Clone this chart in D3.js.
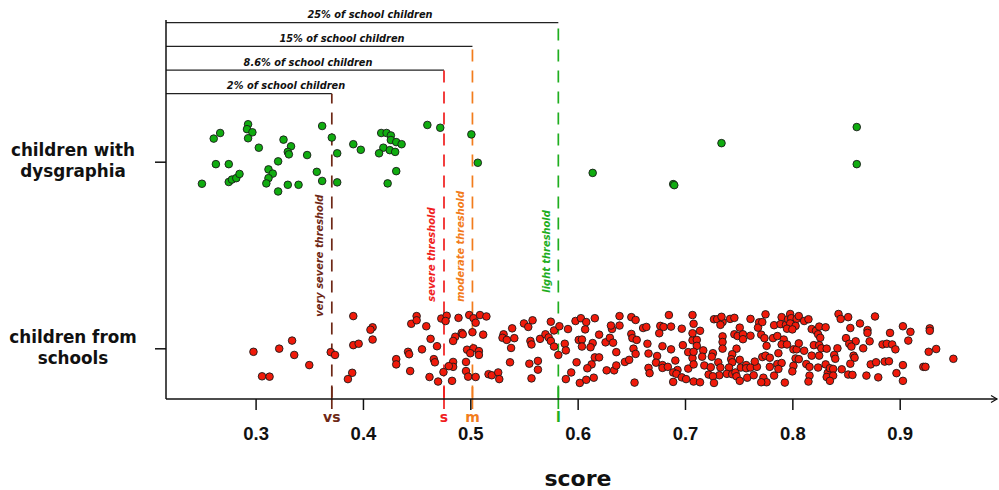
<!DOCTYPE html>
<html>
<head>
<meta charset="utf-8">
<script src="https://cdn.jsdelivr.net/npm/d3@7"></script>
<style>
  html, body { margin: 0; padding: 0; background: #fff; }
  svg { display: block; font-family: "DejaVu Sans", sans-serif; }
</style>
</head>
<body>
<svg id="chart" width="999" height="490"></svg>
<script>
// Groups shown on the vertical axis (top to bottom)
const groups = ["children with dysgraphia", "children from schools"];
const groupLabelLines = [["children with", "dysgraphia"], ["children from", "schools"]];

// Score axis ticks
const xTicks = [0.3, 0.4, 0.5, 0.6, 0.7, 0.8, 0.9];

// Diagnostic thresholds on the score
const thresholdNames = ["very severe threshold", "severe threshold", "moderate threshold", "light threshold"];
const thresholdShort = ["vs", "s", "m", "l"];
const thresholdValues = [0.371, 0.4755, 0.502, 0.582];
const thresholdShares = ["2% of school children", "8.6% of school children", "15% of school children", "25% of school children"];
const thresholdColors = ["#6e2816", "#f01e1e", "#f27c1c", "#1fae1f"];

// [score, vertical jitter in -1..1] for each child
const dysgraphiaPoints = [
  [0.250,0.63],[0.261,-0.66],[0.267,-0.82],[0.263,0.07],[0.275,0.07],[0.275,0.58],[0.278,0.51],[0.282,0.47],
  [0.285,0.35],[0.293,-1.07],[0.292,-0.93],[0.297,-0.84],[0.293,-0.67],[0.303,-0.40],[0.312,0.22],[0.316,0.34],
  [0.312,0.47],[0.310,0.62],[0.321,0.85],[0.321,-0.01],[0.326,-0.63],[0.333,-0.44],[0.330,-0.28],[0.331,-0.21],
  [0.330,0.66],[0.340,0.66],[0.348,-0.19],[0.362,-1.02],[0.371,-0.69],[0.376,-0.24],[0.357,0.29],[0.362,0.55],
  [0.376,0.59],[0.391,-0.50],[0.398,-0.34],[0.417,-0.82],[0.422,-0.82],[0.426,-0.75],[0.426,-0.62],[0.431,-0.56],
  [0.436,-0.50],[0.419,-0.40],[0.415,-0.24],[0.425,-0.33],[0.430,-0.28],[0.431,0.27],[0.423,0.62],[0.460,-1.05],
  [0.472,-0.97],[0.501,-0.78],[0.507,0.03],[0.614,0.32],[0.689,0.64],[0.690,0.67],[0.734,-0.53],[0.860,-0.99],
  [0.860,0.07]
];

const schoolPoints = [
  [0.298,0.10],[0.322,0.01],[0.334,-0.22],[0.336,0.19],[0.350,0.48],[0.306,0.80],[0.313,0.81],[0.370,0.11],
  [0.374,0.19],[0.391,-0.92],[0.391,-0.09],[0.396,-0.13],[0.409,-0.60],[0.407,-0.53],[0.409,-0.25],[0.390,0.70],
  [0.386,0.88],[0.431,0.31],[0.431,0.46],
  [0.445,-0.70],[0.450,-0.92],[0.450,-0.80],[0.459,-0.63],[0.463,-0.27],[0.469,-0.06],[0.442,0.10],[0.443,0.17],
  [0.455,0.03],[0.466,0.31],[0.467,0.40],[0.444,0.65],[0.462,0.82],[0.470,0.95],[0.473,-0.85],[0.478,-0.93],
  [0.477,-0.78],[0.489,-0.87],[0.499,-0.95],[0.503,-0.86],[0.509,-0.95],[0.515,-0.91],[0.505,-0.73],[0.486,-0.33],
  [0.484,-0.21],[0.492,-0.44],[0.493,-0.40],[0.502,-0.46],[0.512,-0.39],[0.497,0.04],[0.503,0.00],[0.500,0.14],
  [0.508,0.08],[0.508,0.19],[0.484,0.39],[0.484,0.53],[0.480,0.51],[0.475,0.68],[0.496,0.39],[0.496,0.65],
  [0.498,0.81],[0.505,0.82],[0.483,0.93],[0.517,0.74],[0.520,0.77],[0.526,0.69],[0.527,0.88],[0.531,-0.40],
  [0.530,-0.30],[0.534,-0.24],[0.539,-0.57],[0.541,-0.29],[0.538,-0.01],[0.537,0.40],[0.550,-0.71],[0.554,-0.61],
  [0.558,-0.80],[0.556,-0.21],[0.557,-0.11],[0.565,-0.27],[0.570,-0.40],[0.573,-0.31],[0.575,-0.21],[0.575,-0.76],
  [0.555,0.44],[0.563,0.36],[0.563,0.61],[0.557,0.86],
  [0.578,-0.51],[0.578,-0.05],[0.582,0.19],[0.583,-0.63],[0.588,-0.13],[0.589,0.06],[0.591,-0.55],[0.598,-0.78],
  [0.603,-0.86],[0.608,-0.75],[0.607,-0.54],[0.616,-0.86],[0.601,-0.24],[0.604,-0.25],[0.604,-0.05],[0.614,-0.15],
  [0.612,-0.03],[0.620,-0.39],[0.626,-0.17],[0.630,-0.30],[0.633,-0.16],[0.636,0.11],[0.632,-0.55],[0.631,-0.65],
  [0.639,-0.65],[0.639,-0.92],[0.650,-0.89],[0.654,-0.81],[0.661,-0.58],[0.664,-0.61],[0.650,-0.41],[0.651,-0.29],
  [0.655,-0.24],[0.665,-0.13],[0.652,0.01],[0.654,0.16],[0.666,0.15],[0.616,0.26],[0.620,0.26],[0.599,0.40],
  [0.613,0.46],[0.609,0.57],[0.594,0.69],[0.589,0.88],[0.602,0.99],[0.608,0.90],[0.615,0.84],[0.627,0.63],
  [0.634,0.63],[0.636,0.49],[0.644,0.39],[0.648,0.33],[0.653,0.98],[0.674,0.22],[0.673,0.41],[0.677,-0.64],
  [0.680,-0.61],[0.676,-0.43],[0.685,-0.95],[0.687,-0.62],[0.697,-0.56],[0.679,-0.06],[0.687,0.03],[0.698,-0.09],
  [0.703,0.11],[0.707,-0.23],[0.707,-0.43],[0.707,-0.95],[0.707,0.28],[0.666,0.56],[0.667,0.71],[0.679,0.48],
  [0.679,0.56],[0.684,0.53],[0.691,0.35],[0.693,0.62],[0.689,0.69],[0.692,0.73],[0.689,0.96],[0.697,0.83],
  [0.701,0.88],[0.703,0.58],[0.708,0.46],
  [0.708,-0.70],[0.711,-0.24],[0.714,-0.50],[0.711,-0.07],[0.717,0.06],[0.708,0.10],[0.716,0.24],[0.718,0.49],
  [0.708,0.95],[0.714,0.97],[0.722,0.75],[0.724,0.54],[0.726,0.14],[0.725,0.24],[0.727,-0.83],[0.730,-0.83],
  [0.735,-0.75],[0.734,-0.90],[0.733,-0.67],[0.735,-0.34],[0.735,-0.18],[0.735,0.01],[0.731,0.40],[0.733,0.55],
  [0.732,0.77],[0.726,0.80],[0.727,0.99],[0.742,-0.84],[0.746,-0.87],[0.748,0.01],[0.744,0.17],[0.743,0.31],
  [0.744,0.40],[0.741,0.55],[0.739,0.73],[0.744,0.74],[0.747,0.69],[0.748,0.80],[0.751,0.93],[0.752,0.55],
  [0.751,0.33],[0.746,-0.40],[0.749,-0.35],[0.751,-0.59],[0.754,-0.40],[0.754,-0.26],[0.761,-0.84],[0.761,-0.36],
  [0.757,0.48],[0.757,0.57],[0.761,0.55],[0.758,0.84],[0.764,0.77],[0.767,0.53],[0.765,0.38],[0.769,-0.74],
  [0.768,-0.59],[0.772,-0.75],[0.775,-0.97],[0.771,-0.39],[0.774,-0.29],[0.776,-0.07],[0.772,0.25],[0.775,0.21],
  [0.779,0.27],[0.779,0.53],[0.783,0.78],[0.773,0.84],[0.776,0.97],[0.771,0.97],[0.782,-0.29],[0.786,-0.35],
  [0.790,-0.89],[0.783,-0.66],[0.789,-0.69],[0.794,-0.67],[0.796,-0.83],[0.798,-0.98],[0.799,-0.86],[0.804,-0.84],
  [0.806,-0.92],[0.798,-0.71],[0.803,-0.64],[0.795,-0.56],[0.800,-0.54],[0.792,-0.25],[0.790,-0.11],[0.795,-0.11],
  [0.787,0.14],[0.786,0.45],[0.790,0.42],[0.787,0.59],[0.793,0.98],[0.801,0.03],[0.804,0.03],[0.806,-0.14],
  [0.803,0.29],[0.801,0.50],[0.800,0.66],[0.806,0.31],[0.811,-0.78],[0.815,-0.83],[0.818,-0.55],[0.822,-0.50],
  [0.824,-0.40],[0.825,-0.62],[0.831,-0.60],[0.826,-0.30],[0.820,-0.09],[0.825,-0.09],[0.811,0.07],[0.818,0.21],
  [0.825,0.21],[0.827,0.00],[0.832,0.01],[0.813,0.45],[0.816,0.53],[0.824,0.55],[0.831,0.46],[0.816,0.78],
  [0.815,0.95],[0.833,0.70],[0.832,0.82],
  [0.843,-0.98],[0.845,-0.84],[0.852,-0.89],[0.863,-0.71],[0.877,-0.91],[0.854,-0.58],[0.870,-0.52],[0.870,-0.44],
  [0.850,-0.29],[0.859,-0.20],[0.853,-0.13],[0.855,-0.05],[0.872,-0.20],[0.866,0.00],[0.842,0.00],[0.839,0.19],
  [0.840,0.30],[0.857,0.21],[0.858,0.27],[0.854,0.44],[0.835,0.57],[0.838,0.59],[0.838,0.78],[0.835,0.93],
  [0.846,0.60],[0.852,0.75],[0.856,0.76],[0.869,0.78],[0.880,0.83],[0.873,0.46],[0.878,0.40],[0.886,0.38],
  [0.890,0.37],[0.884,-0.11],[0.888,-0.13],[0.893,-0.11],[0.896,0.03],[0.891,-0.44],[0.903,-0.63],[0.910,-0.47],
  [0.908,-0.22],[0.903,0.48],[0.897,0.71],[0.903,0.93],[0.928,-0.57],[0.928,-0.50],[0.934,0.02],[0.927,0.10],
  [0.922,0.53],[0.924,0.53],[0.950,0.30]
];

const svg = d3.select("#chart");
const FONT = "'DejaVu Sans', sans-serif";

// Layout
const axisY = 399, axisLeft = 166, axisRight = 997, axisTop = 20;

const x = d3.scaleLinear().domain([0.3, 0.9]).range([255.6, 899.7]);
const y = d3.scalePoint().domain(groups).range([161.7, 348.3]);
const jitter = d3.scaleLinear().domain([-1, 1]).range([-35, 35]);

// Bracket rows above the plot, from the lowest (first threshold) upward
const bracketY = i => 93.7 - i * 23.67;
const bracketLabelCenter = [120, 142, 176, 204]; // px to the right of the vertical axis
const verticalLabelStart = [316.7, 301.7, 301.7, 292.7];

// Dash phase shared by all threshold lines
const DASH = 12, GAP = 9, DASH_ORIGIN = 28.5;

// Threshold lines, brackets and annotations
thresholdValues.forEach((v, i) => {
  const tx = x(v);
  const by = bracketY(i);
  const col = thresholdColors[i];

  // bracket
  svg.append("line")
    .attr("x1", axisLeft).attr("x2", tx)
    .attr("y1", by).attr("y2", by)
    .attr("stroke", "#222").attr("stroke-width", 1.3);

  svg.append("text")
    .attr("x", axisLeft + bracketLabelCenter[i]).attr("y", by - 4.5)
    .attr("text-anchor", "middle")
    .attr("font-family", FONT).attr("font-size", 9.8)
    .attr("font-weight", "bold").attr("font-style", "italic")
    .attr("fill", "#111")
    .text(thresholdShares[i]);

  // dashed threshold line
  const period = DASH + GAP;
  const offset = (((by - DASH_ORIGIN) % period) + period) % period;
  svg.append("line")
    .attr("x1", tx).attr("x2", tx)
    .attr("y1", by).attr("y2", axisY)
    .attr("stroke", col).attr("stroke-width", 1.7)
    .attr("stroke-dasharray", `${DASH},${GAP}`)
    .attr("stroke-dashoffset", offset);

  // solid tick across the score axis
  svg.append("line")
    .attr("x1", tx).attr("x2", tx)
    .attr("y1", 387).attr("y2", 409)
    .attr("stroke", col).attr("stroke-width", 1.7);

  svg.append("text")
    .attr("x", tx).attr("y", 422)
    .attr("text-anchor", "middle")
    .attr("font-family", FONT).attr("font-size", 14).attr("font-weight", "bold")
    .attr("fill", col)
    .text(thresholdShort[i]);

  // rotated threshold name
  svg.append("text")
    .attr("transform", `translate(${tx - 8.7},${verticalLabelStart[i]}) rotate(-90)`)
    .attr("font-family", FONT).attr("font-size", 9.9)
    .attr("font-weight", "bold").attr("font-style", "italic")
    .attr("fill", col)
    .text(thresholdNames[i]);
});

// Score axis
const gx = svg.append("g")
  .attr("transform", `translate(0,${axisY})`)
  .attr("font-family", FONT)
  .call(d3.axisBottom(x).tickValues(xTicks).tickSize(11).tickPadding(16.5).tickFormat(d3.format(".1f")));
gx.select(".domain").remove();
gx.selectAll(".tick line").attr("stroke", "#111").attr("stroke-width", 1.5);
gx.selectAll(".tick text")
  .attr("font-size", 18.5).attr("font-weight", "bold").attr("fill", "#111");

svg.append("line")
  .attr("x1", axisLeft).attr("x2", axisRight)
  .attr("y1", axisY).attr("y2", axisY)
  .attr("stroke", "#111").attr("stroke-width", 1.5);
svg.append("path")
  .attr("d", `M${axisRight - 6},${axisY - 3.5} L${axisRight},${axisY} L${axisRight - 6},${axisY + 3.5}`)
  .attr("fill", "none").attr("stroke", "#111").attr("stroke-width", 1.2);

svg.append("text")
  .attr("x", 578).attr("y", 486)
  .attr("text-anchor", "middle")
  .attr("font-family", FONT).attr("font-size", 22).attr("font-weight", "bold")
  .attr("fill", "#111")
  .text("score");

// Group axis
const gy = svg.append("g")
  .attr("transform", `translate(${axisLeft},0)`)
  .call(d3.axisLeft(y).tickSize(11).tickFormat(""));
gy.select(".domain").remove();
gy.selectAll(".tick line").attr("stroke", "#111").attr("stroke-width", 1.5);

svg.append("line")
  .attr("x1", axisLeft).attr("x2", axisLeft)
  .attr("y1", axisTop).attr("y2", axisY)
  .attr("stroke", "#111").attr("stroke-width", 1.5);

groups.forEach((g, i) => {
  const t = svg.append("text")
    .attr("text-anchor", "middle")
    .attr("font-family", FONT).attr("font-size", 16.8).attr("font-weight", "bold")
    .attr("fill", "#111");
  groupLabelLines[i].forEach((line, k) => {
    t.append("tspan")
      .attr("x", 73)
      .attr("y", y(g) - 5.6 + k * 20.8)
      .text(line);
  });
});

// Children
const series = [
  { group: groups[0], points: dysgraphiaPoints, fill: "#10ac10" },
  { group: groups[1], points: schoolPoints, fill: "#f01a0a" }
];
series.forEach(s => {
  svg.append("g")
    .selectAll("circle")
    .data(s.points)
    .join("circle")
    .attr("cx", d => x(d[0]))
    .attr("cy", d => y(s.group) + jitter(d[1]))
    .attr("r", 3.8)
    .attr("fill", s.fill)
    .attr("stroke", "#1a1a1a")
    .attr("stroke-width", 0.9);
});
</script>
</body>
</html>
